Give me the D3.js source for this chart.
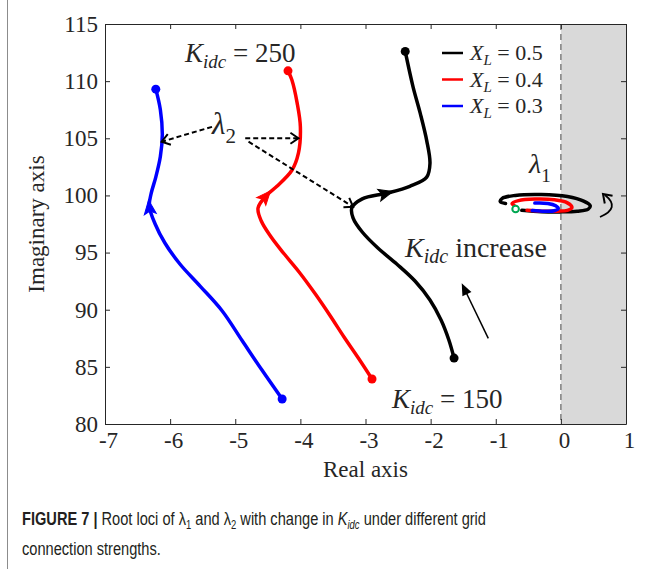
<!DOCTYPE html>
<html>
<head>
<meta charset="utf-8">
<script src="https://cdn.jsdelivr.net/npm/d3@7"></script>
<style>
  body { margin: 0; background: #fff; }
  svg text { font-family: "Liberation Serif", "Times New Roman", serif; fill: #262626; }
  .caption { font-family: "Liberation Sans Narrow", "Liberation Sans", Arial, sans-serif; fill: #231f20; }
</style>
</head>
<body>
<div id="chart"></div>
<script>
// ---- data ----
var xTicks = [-7, -6, -5, -4, -3, -2, -1, 0, 1];
var yTicks = [80, 85, 90, 95, 100, 105, 110, 115];
var legendValues = ["0.5", "0.4", "0.3"];

// lambda2 loci, [real, imag], Kidc from 150 to 250
var lam2Black = [[-1.64, 85.77], [-1.72, 87.35], [-1.84, 89.1], [-2.01, 90.85], [-2.24, 92.51], [-2.52, 94.0],
  [-2.81, 95.4], [-3.05, 96.8], [-3.19, 98.02], [-3.21, 98.9], [-3.05, 99.7], [-2.67, 100.2], [-2.32, 100.8],
  [-2.06, 101.6], [-2.01, 102.8], [-2.06, 104.8], [-2.16, 107.2], [-2.27, 109.5], [-2.39, 112.6]];
var lam2Red = [[-2.90, 83.94], [-3.11, 85.77], [-3.33, 87.61], [-3.54, 89.45], [-3.77, 91.37], [-4.02, 93.3],
  [-4.26, 94.96], [-4.46, 96.45], [-4.60, 97.76], [-4.65, 98.9], [-4.52, 100.0], [-4.36, 100.8],
  [-4.13, 102.2], [-4.03, 103.7], [-4.0, 106.0], [-4.05, 108.1], [-4.13, 110.1], [-4.19, 110.9]];
var lam2Blue = [[-4.28, 82.19], [-4.59, 84.72], [-4.89, 87.26], [-5.20, 89.89], [-5.54, 92.07], [-5.85, 94.0],
  [-6.08, 95.84], [-6.23, 97.5], [-6.32, 99.07], [-6.29, 100.2], [-6.22, 101.6], [-6.15, 103.4],
  [-6.12, 105.3], [-6.15, 107.5], [-6.22, 109.3]];

// lambda1 loci (small spirals around -0.3 + j99)
var lam1Black = [[-0.60, 98.70], [-0.3, 98.58], [0.0, 98.56], [0.25, 98.62], [0.42, 98.8], [0.45, 99.1],
  [0.35, 99.5], [0.1, 99.9], [-0.3, 100.08], [-0.7, 100.0], [-0.9, 99.75], [-0.93, 99.45], [-0.85, 99.3]];
var lam1Red = [[-0.52, 98.70], [-0.3, 98.62], [-0.05, 98.62], [0.1, 98.7], [0.17, 98.95], [0.1, 99.35],
  [-0.1, 99.62], [-0.4, 99.68], [-0.65, 99.55], [-0.75, 99.3], [-0.70, 99.05]];
var lam1Blue = [[-0.44, 98.68], [-0.25, 98.62], [-0.1, 98.66], [-0.04, 98.85], [-0.08, 99.1], [-0.2, 99.3], [-0.4, 99.33]];
var lam1Start = [-0.695, 98.81];

var colors = ["#000000", "#ff0000", "#0000ff"];
var arrowIdx = [11, 10, 8];

var svgWidth = 651;
var svgHeight = 569;

var svg = d3.select("#chart")
    .append("svg")
    .attr("width", svgWidth)
    .attr("height", svgHeight);

// left page rule
svg.append("line")
    .attr("x1", 7.5).attr("x2", 7.5)
    .attr("y1", 0).attr("y2", svgHeight)
    .attr("stroke", "#8c8c8c")
    .attr("stroke-width", 1);

var x = d3.scaleLinear().domain([-7, 1]).range([105, 626]);
var y = d3.scaleLinear().domain([80, 115]).range([424, 24]);

// unstable half plane
svg.append("rect")
    .attr("x", x(0)).attr("y", y(115))
    .attr("width", x(1) - x(0))
    .attr("height", y(80) - y(115))
    .attr("fill", "#d9d9d9");

svg.append("line")
    .attr("x1", x(0)).attr("x2", x(0))
    .attr("y1", y(115)).attr("y2", y(80))
    .attr("stroke", "#7f7f7f")
    .attr("stroke-width", 1.5)
    .attr("stroke-dasharray", "6,4");

// axes (inner ticks, full box)
var fmt = function (d) { return String(d); };
var gx = svg.append("g")
    .attr("transform", "translate(0," + y(80) + ")")
    .call(d3.axisBottom(x).tickValues(xTicks).tickFormat(fmt).tickSizeInner(-5).tickSizeOuter(0).tickPadding(8));
var gy = svg.append("g")
    .attr("transform", "translate(" + x(-7) + ",0)")
    .call(d3.axisLeft(y).tickValues(yTicks).tickFormat(fmt).tickSizeInner(-5).tickSizeOuter(0).tickPadding(7));
var gt = svg.append("g")
    .attr("transform", "translate(0," + y(115) + ")")
    .call(d3.axisTop(x).tickValues(xTicks).tickFormat("").tickSizeInner(-5).tickSizeOuter(0));
var gr = svg.append("g")
    .attr("transform", "translate(" + x(1) + ",0)")
    .call(d3.axisRight(y).tickValues(yTicks).tickFormat("").tickSizeInner(-5).tickSizeOuter(0));

[gx, gy, gt, gr].forEach(function (g) {
    g.select(".domain").attr("stroke", "#262626").attr("stroke-width", 1);
    g.selectAll(".tick line").attr("stroke", "#262626");
    g.selectAll("text")
        .attr("fill", "#262626")
        .style("font-family", "'Liberation Serif', serif")
        .style("font-size", "23px");
});
gx.selectAll("text").attr("dx", 3);

svg.append("text")
    .attr("transform", "translate(44," + ((y(80) + y(115)) / 2) + ") rotate(-90)")
    .attr("text-anchor", "middle")
    .style("font-size", "23px")
    .text("Imaginary axis");

svg.append("text")
    .attr("x", (x(-7) + x(1)) / 2)
    .attr("y", 477)
    .attr("text-anchor", "middle")
    .style("font-size", "23px")
    .text("Real axis");

// loci
var line = d3.line()
    .x(function (d) { return x(d[0]); })
    .y(function (d) { return y(d[1]); })
    .curve(d3.curveCatmullRom.alpha(0.5));

var lam2 = [lam2Black, lam2Red, lam2Blue];
var lam1 = [lam1Black, lam1Red, lam1Blue];

lam1.forEach(function (s, i) {
    svg.append("path")
        .attr("d", line(s))
        .attr("fill", "none")
        .attr("stroke", colors[i])
        .attr("stroke-width", 3.5)
        .attr("stroke-linecap", "round");
});

svg.append("circle")
    .attr("cx", x(lam1Start[0]))
    .attr("cy", y(lam1Start[1]))
    .attr("r", 3.3)
    .attr("fill", "#fff")
    .attr("stroke", "#00a651")
    .attr("stroke-width", 2);

lam2.forEach(function (s, i) {
    svg.append("path")
        .attr("d", line(s))
        .attr("fill", "none")
        .attr("stroke", colors[i])
        .attr("stroke-width", 3.5)
        .attr("stroke-linecap", "round");

    svg.selectAll(null)
        .data([s[0], s[s.length - 1]])
        .enter()
        .append("circle")
        .attr("cx", function (d) { return x(d[0]); })
        .attr("cy", function (d) { return y(d[1]); })
        .attr("r", 4.5)
        .attr("fill", colors[i]);

    var k = arrowIdx[i];
    var p0 = s[k - 1], p1 = s[k], p2 = s[k + 1];
    var ang = Math.atan2(y(p2[1]) - y(p0[1]), x(p2[0]) - x(p0[0])) * 180 / Math.PI;
    svg.append("path")
        .attr("d", "M6,0 L-8,-6 L-5,0 L-8,6 Z")
        .attr("transform", "translate(" + x(p1[0]) + "," + y(p1[1]) + ") rotate(" + ang + ")")
        .attr("fill", colors[i])
        .attr("stroke", colors[i])
        .attr("stroke-width", 1);
});

// legend
legendValues.forEach(function (v, i) {
    var ly = 53 + i * 26.5;
    svg.append("line")
        .attr("x1", 442).attr("x2", 463)
        .attr("y1", ly).attr("y2", ly)
        .attr("stroke", colors[i])
        .attr("stroke-width", 2.5);
    var t = svg.append("text")
        .attr("x", 470)
        .attr("y", ly + 7)
        .style("font-size", "22px");
    t.append("tspan").style("font-style", "italic").text("X");
    t.append("tspan").style("font-style", "italic").style("font-size", "15px").attr("dy", 5).text("L");
    t.append("tspan").attr("dy", -5).text(" = " + v);
});

// annotations
function kText(px, py, rest, size) {
    var t = svg.append("text")
        .attr("x", px)
        .attr("y", py)
        .style("font-size", size + "px");
    t.append("tspan").style("font-style", "italic").text("K");
    t.append("tspan").style("font-style", "italic").style("font-size", Math.round(size * 0.7) + "px").attr("dy", 6).text("idc");
    t.append("tspan").attr("dy", -6).text(rest);
}
kText(185, 62, " = 250", 27);
kText(392, 408, " = 150", 27);
kText(405, 257, " increase", 28);

function lamText(px, py, sub, size) {
    var t = svg.append("text")
        .attr("x", px)
        .attr("y", py)
        .style("font-size", size + "px");
    t.append("tspan").style("font-style", "italic").text("\u03bb");
    t.append("tspan").style("font-size", Math.round(size * 0.68) + "px").attr("dy", 9).text(sub);
}
lamText(212, 134, "2", 31);
lamText(529, 173, "1", 28);

function openHead(px, py, ang) {
    svg.append("path")
        .attr("d", "M-8,-5.5 L0,0 L-8,5.5")
        .attr("transform", "translate(" + px + "," + py + ") rotate(" + ang + ")")
        .attr("fill", "none")
        .attr("stroke", "#000")
        .attr("stroke-width", 2);
}

var dashArrows = [
    [[-5.357, 106.0], [-6.13, 104.7]],
    [[-4.847, 105.0], [-4.03, 105.0]],
    [[-4.796, 104.7], [-3.19, 99.0]]
];
dashArrows.forEach(function (a) {
    var x1 = x(a[0][0]), y1 = y(a[0][1]), x2 = x(a[1][0]), y2 = y(a[1][1]);
    svg.append("line")
        .attr("x1", x1).attr("y1", y1).attr("x2", x2).attr("y2", y2)
        .attr("stroke", "#000")
        .attr("stroke-width", 2)
        .attr("stroke-dasharray", "5,3");
    openHead(x2, y2, Math.atan2(y2 - y1, x2 - x1) * 180 / Math.PI);
});

// "Kidc increase" arrow
(function () {
    var x1 = 488.3, y1 = 338.3, x2 = 461.7, y2 = 283.3;
    var a = Math.atan2(y2 - y1, x2 - x1);
    svg.append("line")
        .attr("x1", x1).attr("y1", y1)
        .attr("x2", x2 - 8 * Math.cos(a)).attr("y2", y2 - 8 * Math.sin(a))
        .attr("stroke", "#000").attr("stroke-width", 1.5);
    svg.append("path")
        .attr("d", "M0,0 L-12,-5 L-12,5 Z")
        .attr("transform", "translate(" + x2 + "," + y2 + ") rotate(" + (a * 180 / Math.PI) + ")")
        .attr("fill", "#000");
})();

// curved rotation arrow beside lambda1
svg.append("path")
    .attr("d", "M600,217 Q621,208 605,195")
    .attr("fill", "none")
    .attr("stroke", "#000")
    .attr("stroke-width", 1.8);
openHead(603, 194, -135);

// caption (condensed sans)
var capG = svg.append("g")
    .attr("transform", "translate(22,0) scale(0.79,1)");
var cap = capG.append("text")
    .attr("class", "caption")
    .attr("x", 0)
    .attr("y", 525)
    .style("font-size", "18.5px");
cap.append("tspan").style("font-weight", "bold").text("FIGURE 7 | ");
cap.append("tspan").text("Root loci of \u03bb");
cap.append("tspan").style("font-size", "12px").attr("dy", 4).text("1");
cap.append("tspan").attr("dy", -4).text(" and \u03bb");
cap.append("tspan").style("font-size", "12px").attr("dy", 4).text("2");
cap.append("tspan").attr("dy", -4).text(" with change in ");
cap.append("tspan").style("font-style", "italic").text("K");
cap.append("tspan").style("font-style", "italic").style("font-size", "12px").attr("dy", 4).text("idc");
cap.append("tspan").attr("dy", -4).text(" under different grid");

capG.append("text")
    .attr("class", "caption")
    .attr("x", 0)
    .attr("y", 555)
    .style("font-size", "18.5px")
    .text("connection strengths.");
</script>
</body>
</html>
